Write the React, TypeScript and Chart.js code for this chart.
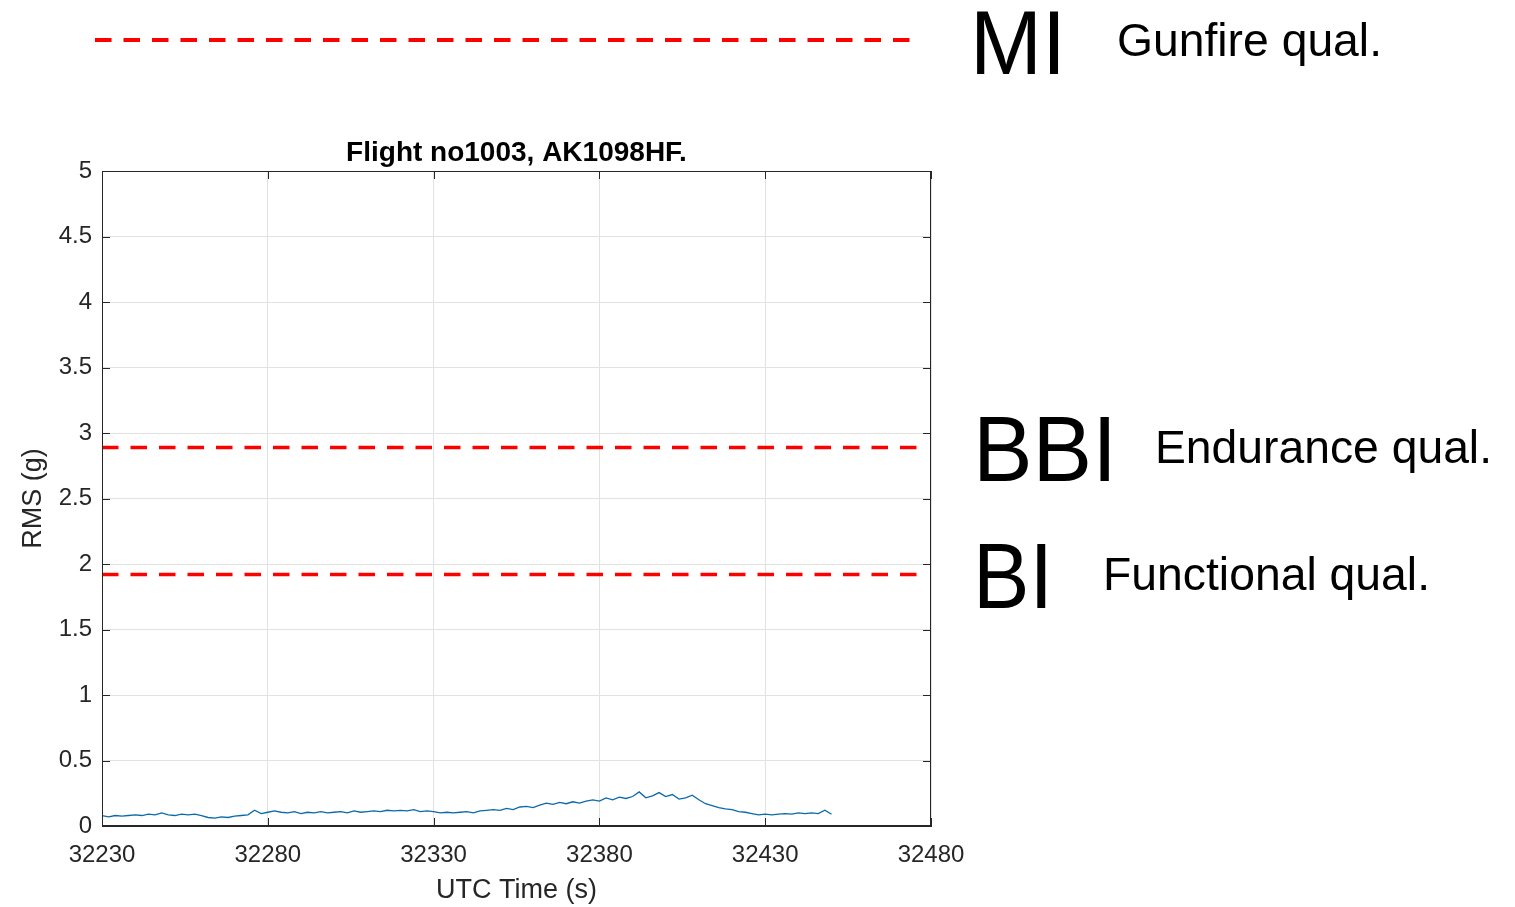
import { useEffect, useRef } from "react";
import { Chart, registerables } from "chart.js";

Chart.register(...registerables);

const TITLE = "Flight no1003, AK1098HF.";
const X_LABEL = "UTC Time (s)";
const Y_LABEL = "RMS (g)";

const X_MIN = 32230;
const X_MAX = 32480;
const X_STEP = 50;
const Y_MIN = 0;
const Y_MAX = 5;
const Y_STEP = 0.5;

// sampling grid of the RMS record (s)
const TIME_START = 32230;
const TIME_STEP = 2;
// RMS (g), one value every 2 s
const RMS_VALUES = [
  0.08, 0.07, 0.08, 0.075, 0.08, 0.085, 0.08, 0.09, 0.085, 0.1,
  0.085, 0.08, 0.09, 0.085, 0.09, 0.08, 0.065, 0.06, 0.07, 0.065,
  0.075, 0.08, 0.085, 0.12, 0.095, 0.105, 0.115, 0.105, 0.1, 0.11,
  0.095, 0.105, 0.1, 0.11, 0.1, 0.105, 0.11, 0.1, 0.115, 0.105,
  0.11, 0.115, 0.11, 0.12, 0.115, 0.12, 0.115, 0.125, 0.11, 0.115,
  0.11, 0.1, 0.105, 0.1, 0.105, 0.11, 0.1, 0.115, 0.12, 0.125,
  0.12, 0.135, 0.125, 0.145, 0.15, 0.14, 0.16, 0.175, 0.165, 0.18,
  0.17, 0.185, 0.175, 0.19, 0.2, 0.19, 0.215, 0.2, 0.22, 0.21,
  0.225, 0.26, 0.215, 0.23, 0.255, 0.225, 0.24, 0.205, 0.215, 0.235,
  0.2, 0.17, 0.155, 0.14, 0.13, 0.125, 0.11, 0.105, 0.095, 0.085,
  0.09, 0.085, 0.09, 0.095, 0.09, 0.1, 0.095, 0.1, 0.095, 0.12,
  0.09,
];

// qualification limits drawn inside the axes
const LIMIT_NAMES = ["BBI", "BI"];
const LIMIT_QUALS = ["Endurance qual.", "Functional qual."];
const LIMIT_VALUES = [2.89, 1.92];
const LIMIT_SPAN = [32230, 32477];

// limit shown above the axes
const TOP_LIMIT_NAME = "MI";
const TOP_LIMIT_QUAL = "Gunfire qual.";

const FONT = 'Arial, "Liberation Sans", "Helvetica", sans-serif';
const RED = "#ff0000";
const DASH = [16.5, 12];

function fitText(
  ctx: CanvasRenderingContext2D,
  text: string,
  x: number,
  centerY: number,
  size: number,
  width: number,
  weight = "normal"
) {
  ctx.save();
  ctx.font = `${weight} ${size}px ${FONT}`;
  ctx.fillStyle = "#000000";
  ctx.textAlign = "left";
  ctx.textBaseline = "alphabetic";
  const w = ctx.measureText(text).width;
  const sx = width / w;
  const baseline = centerY + (size * 0.716) / 2;
  ctx.translate(x, baseline);
  ctx.scale(sx, 1);
  ctx.fillText(text, 0, 0);
  ctx.restore();
}

const decorPlugin = {
  id: "decor",
  afterDatasetsDraw(chart: any) {
    const { ctx, chartArea, scales } = chart;
    const xs = scales.x;
    const ys = scales.y;
    ctx.save();
    // box
    ctx.strokeStyle = "#262626";
    ctx.lineWidth = 1;
    ctx.strokeRect(
      chartArea.left + 0.5,
      chartArea.top + 0.5,
      chartArea.right - chartArea.left - 1,
      chartArea.bottom - chartArea.top - 1
    );
    // inward ticks
    const tl = 8;
    ctx.beginPath();
    xs.ticks.forEach((t: any) => {
      const px = Math.round(xs.getPixelForValue(t.value)) + 0.5;
      ctx.moveTo(px, chartArea.bottom);
      ctx.lineTo(px, chartArea.bottom - tl);
      ctx.moveTo(px, chartArea.top);
      ctx.lineTo(px, chartArea.top + tl);
    });
    ys.ticks.forEach((t: any) => {
      const py = Math.round(ys.getPixelForValue(t.value)) + 0.5;
      ctx.moveTo(chartArea.left, py);
      ctx.lineTo(chartArea.left + tl, py);
      ctx.moveTo(chartArea.right, py);
      ctx.lineTo(chartArea.right - tl, py);
    });
    ctx.stroke();
    ctx.restore();
  },
  afterDraw(chart: any) {
    const { ctx, scales, chartArea } = chart;
    const ys = scales.y;

    // axes title, centred over the plot box
    ctx.save();
    ctx.font = `bold 28px ${FONT}`;
    ctx.fillStyle = "#000000";
    ctx.textAlign = "center";
    ctx.textBaseline = "alphabetic";
    ctx.fillText(TITLE, (chartArea.left + chartArea.right) / 2, chartArea.top - 10);
    ctx.restore();

    ctx.save();
    // top legend-like dashed limit line
    ctx.strokeStyle = RED;
    ctx.lineWidth = 4;
    ctx.setLineDash(DASH);
    ctx.beginPath();
    ctx.moveTo(95, 40);
    ctx.lineTo(916, 40);
    ctx.stroke();
    ctx.restore();

    fitText(ctx, TOP_LIMIT_NAME, 970, 42, 90, 96);
    fitText(ctx, TOP_LIMIT_QUAL, 1117, 40, 46, 265);

    const nameX = [973, 973];
    const nameW = [144, 80];
    const qualX = [1155, 1103];
    const qualW = [337, 327];
    LIMIT_VALUES.forEach((v, i) => {
      const py = ys.getPixelForValue(v);
      fitText(ctx, LIMIT_NAMES[i], nameX[i], py + 1, 92, nameW[i]);
      fitText(ctx, LIMIT_QUALS[i], qualX[i], py - 1, 46, qualW[i]);
    });
  },
};

export default function App() {
  const ref = useRef<HTMLCanvasElement | null>(null);

  useEffect(() => {
    document.body.style.margin = "0";
    const canvas = ref.current;
    if (!canvas) return;

    const rmsPoints = RMS_VALUES.map((v, i) => ({ x: TIME_START + i * TIME_STEP, y: v }));
    const limitSets = LIMIT_VALUES.map((v, i) => ({
      label: LIMIT_NAMES[i],
      data: [
        { x: LIMIT_SPAN[0], y: v },
        { x: LIMIT_SPAN[1], y: v },
      ],
      borderColor: RED,
      borderWidth: 3.5,
      borderDash: DASH,
      pointRadius: 0,
      fill: false,
      tension: 0,
    }));

    const chart = new Chart(canvas, {
      type: "line",
      data: {
        datasets: [
          {
            label: "RMS",
            data: rmsPoints,
            borderColor: "#0b6aa8",
            borderWidth: 1.3,
            pointRadius: 0,
            fill: false,
            tension: 0,
          },
          ...limitSets,
        ],
      },
      options: {
        animation: false,
        responsive: false,
        devicePixelRatio: 1,
        layout: { padding: { left: 0, right: 584, top: 171, bottom: 0 } },
        plugins: {
          legend: { display: false },
          tooltip: { enabled: false },
          title: { display: false },
        },
        scales: {
          x: {
            type: "linear",
            min: X_MIN,
            max: X_MAX,
            afterFit: (s: any) => {
              s.height = 81;
            },
            ticks: {
              stepSize: X_STEP,
              color: "#262626",
              font: { family: FONT, size: 24 },
              padding: 15,
              maxRotation: 0,
              autoSkip: false,
              callback: (v: any) => String(v),
            },
            grid: { color: "#e2e2e2", drawTicks: false },
            border: { display: true, color: "#262626", width: 1 },
            title: {
              display: true,
              text: X_LABEL,
              color: "#262626",
              font: { family: FONT, size: 27 },
              padding: { top: 0, bottom: 0 },
            },
          },
          y: {
            type: "linear",
            min: Y_MIN,
            max: Y_MAX,
            afterFit: (s: any) => {
              s.width = 102;
            },
            ticks: {
              stepSize: Y_STEP,
              color: "#262626",
              font: { family: FONT, size: 24 },
              padding: 10,
              callback: (v: any) => String(v),
            },
            grid: { color: "#e2e2e2", drawTicks: false },
            border: { display: true, color: "#262626", width: 1 },
            title: {
              display: true,
              text: Y_LABEL,
              color: "#262626",
              font: { family: FONT, size: 27 },
              padding: { top: 17, bottom: 0 },
            },
          },
        },
      },
      plugins: [decorPlugin],
    });

    return () => chart.destroy();
  }, []);

  return (
    <div style={{ position: "fixed", left: 0, top: 0, width: 1515, height: 907, background: "#ffffff" }}>
      <canvas ref={ref} width={1515} height={907} style={{ width: 1515, height: 907 }} />
    </div>
  );
}
